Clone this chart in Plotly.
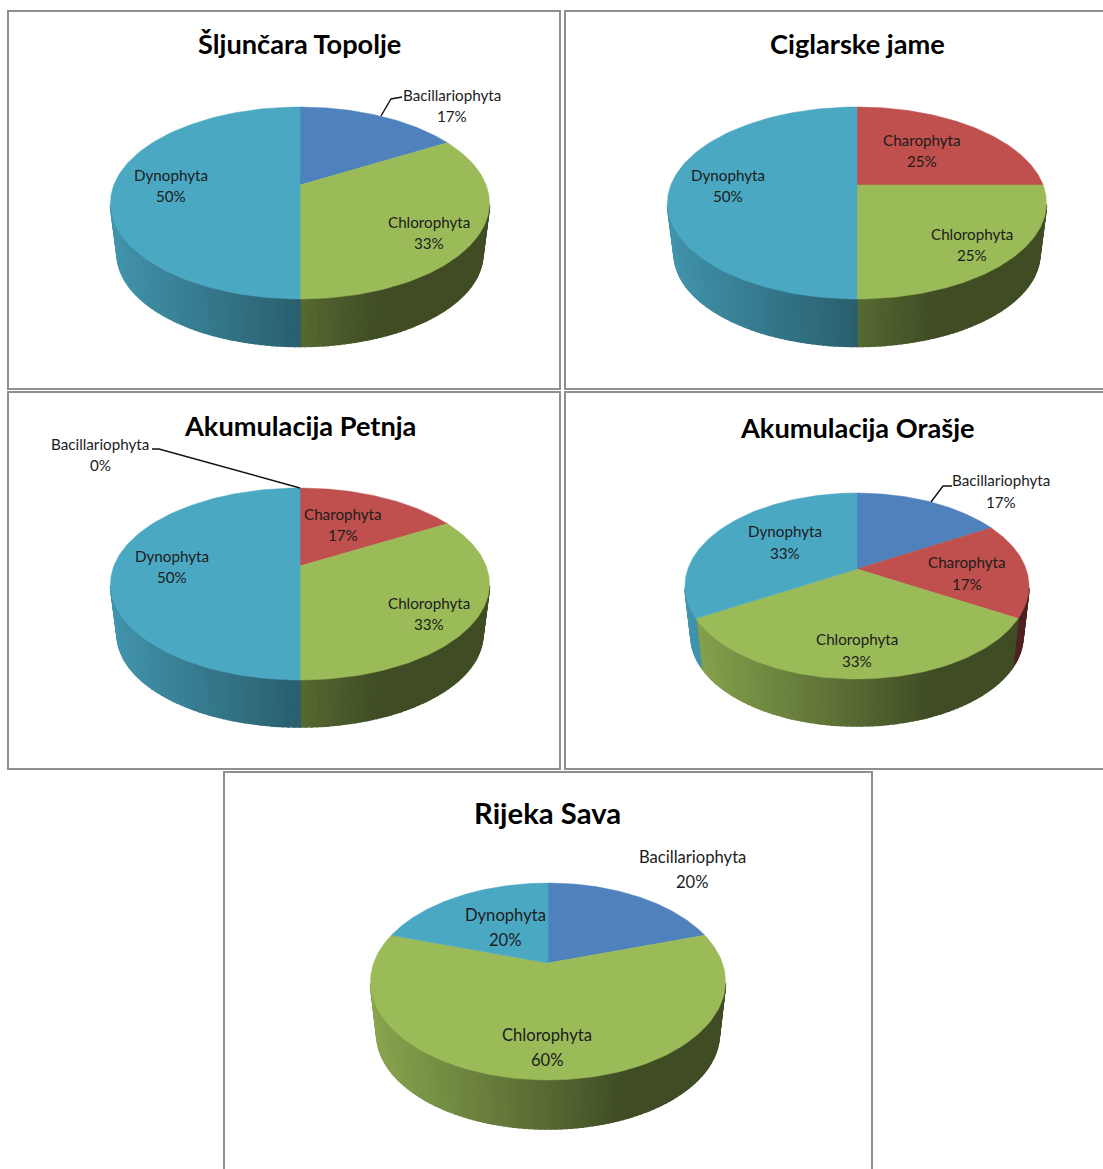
import numpy as np
import plotly.graph_objects as go

W, H = 1103, 1169
FONT = "Lato"

# ---- data (species counts per group)
categories = ["Bacillariophyta", "Charophyta", "Chlorophyta", "Dynophyta"]
titles = ["Šljunčara Topolje", "Ciglarske jame", "Akumulacija Petnja", "Akumulacija Orašje", "Rijeka Sava"]
sljuncara_topolje = [1, 0, 2, 3]
ciglarske_jame = [0, 1, 1, 2]
akumulacija_petnja = [0, 1, 2, 3]
akumulacija_orasje = [1, 1, 2, 2]
rijeka_sava = [1, 0, 3, 1]
series = [sljuncara_topolje, ciglarske_jame, akumulacija_petnja, akumulacija_orasje, rijeka_sava]

# ---- styles and layout (page pixels)
colors = ["#4f81bd", "#c0504d", "#9bbb59", "#4aa8c3"]
panels = [
    dict(frame=(8, 11, 560, 389), cx=300, apex=185, up=78, down=114, rx=189.5, depth=47.5, title=(299, 43.5), tfs=27.2, fs=15.2, gap=21),
    dict(frame=(565, 11, 1112, 389), cx=857, apex=185, up=78, down=114, rx=189.5, depth=47.5, title=(857, 43.5), tfs=27.2, fs=15.2, gap=21),
    dict(frame=(8, 392, 560, 769), cx=300, apex=566, up=78, down=114, rx=189.5, depth=47, title=(300, 425), tfs=27.2, fs=15.2, gap=21),
    dict(frame=(565, 392, 1112, 769), cx=857, apex=569, up=76, down=110, rx=172, depth=47, title=(857, 427.5), tfs=27.2, fs=15.2, gap=22),
    dict(frame=(224, 772, 872, 1180), cx=548, apex=963, up=80, down=117, rx=177.5, depth=49, title=(547.5, 812), tfs=29.3, fs=16.6, gap=25),
]
label_pos = [
    {0: (452, 95.5), 2: (429, 222.5), 3: (171, 175.5)},
    {1: (922, 140.5), 2: (972, 234.5), 3: (728, 175.5)},
    {0: (100, 443.5), 1: (343, 514), 2: (429, 603), 3: (172, 556)},
    {0: (1001, 480), 1: (967, 562), 2: (857, 639), 3: (785, 531)},
    {0: (692, 856.5), 2: (547, 1034.5), 3: (505, 914.5)},
]
leaders = [
    ([381, 391, 402], [116, 99, 97]),
    None,
    ([300, 159, 152], [488, 449, 449]),
    ([931, 943, 952], [502, 486, 486]),
    None,
]


def darken(hex_color, m):
    r, g, b = (int(hex_color[i:i + 2], 16) for i in (1, 3, 5))
    return f"rgb({r * m:.0f},{g * m:.0f},{b * m:.0f})"


def shade(u):
    return float(np.interp(u, [-1, 0, 0.42, 1], [0.88, 0.56, 0.41, 0.41]))


fig = go.Figure()
layout = dict()
shapes, annotations = [], []

for i, (p, values) in enumerate(zip(panels, series)):
    n = "" if i == 0 else str(i + 1)
    x0, y0, x1, y1 = p["frame"]
    layout["xaxis" + n] = dict(domain=[max(x0, 0) / W, min(x1, W) / W], range=[x0, min(x1, W)], visible=False, fixedrange=True)
    layout["yaxis" + n] = dict(domain=[1 - min(y1, H) / H, 1 - y0 / H], range=[min(y1, H), y0], visible=False, fixedrange=True)
    xa, ya = "x" + n, "y" + n

    shapes.append(dict(type="rect", xref="paper", yref="paper", x0=x0 / W, x1=x1 / W, y0=1 - y0 / H, y1=1 - y1 / H,
                       line=dict(color="#8f8f8f", width=2), layer="below"))

    # projection of the tilted disc: a circle seen in perspective
    k = (p["down"] - p["up"]) / (p["down"] + p["up"])
    a = p["up"] * (1 + k)
    A = p["rx"] * np.sqrt(1 - k ** 2)

    def top(t):
        t = np.radians(t)
        d = 1 + k * np.cos(t)
        return p["cx"] + A * np.sin(t) / d, p["apex"] - a * np.cos(t) / d

    def bottom(t):
        s = 0.965
        tx, ty = top(t)
        return p["cx"] + s * (tx - p["cx"]), p["apex"] + s * (ty - p["apex"]) + p["depth"] + (1 - s) * p["down"]

    total = sum(values)
    edges = np.concatenate([[0], np.cumsum(values) / total * 360])
    visible_from = np.degrees(np.arccos(-k)) + 1.0  # where the rim turns downward

    # side wall first, as thin shaded strips painted with overlap so no seams show
    for j, v in enumerate(values):
        lo, hi = max(edges[j], visible_from), min(edges[j + 1], 360 - visible_from)
        if v == 0 or hi <= lo:
            continue
        steps = max(1, int(np.ceil((hi - lo) / 1.5)))
        ts = np.linspace(lo, hi, steps + 1)
        for t0, t1 in zip(ts[:-1], ts[1:]):
            tx0, ty0 = top(t0)
            tx1, ty1 = top(t1)
            bx0, by0 = bottom(t0)
            bx1, by1 = bottom(t1)
            u = (top((t0 + t1) / 2)[0] - p["cx"]) / p["rx"]
            col = darken(colors[j], shade(u))
            fig.add_trace(go.Scatter(x=[tx0, tx1, bx1, bx0, tx0], y=[ty0, ty1, by1, by0, ty0], mode="lines",
                                     fill="toself", fillcolor=col, line=dict(color=col, width=1.6),
                                     xaxis=xa, yaxis=ya, hoverinfo="skip", showlegend=False))

    # top face
    for j, v in enumerate(values):
        if v == 0:
            continue
        ts = np.linspace(edges[j], edges[j + 1], 120)
        xs, ys = top(ts)
        fig.add_trace(go.Scatter(x=[p["cx"], *xs, p["cx"]], y=[p["apex"], *ys, p["apex"]], mode="lines",
                                 fill="toself", fillcolor=colors[j], line=dict(color=colors[j], width=0.5),
                                 xaxis=xa, yaxis=ya, name=categories[j], hoverinfo="name", showlegend=False))

    if leaders[i]:
        fig.add_trace(go.Scatter(x=leaders[i][0], y=leaders[i][1], mode="lines", line=dict(color="#111111", width=1.4),
                                 xaxis=xa, yaxis=ya, hoverinfo="skip", showlegend=False))

    # title and labels
    annotations.append(dict(x=p["title"][0], y=p["title"][1], xref=xa, yref=ya, text=f"<b>{titles[i]}</b>", showarrow=False,
                            font=dict(family=FONT, size=p["tfs"], color="#000000"), xanchor="center", yanchor="middle"))
    for j, (lx, ly) in label_pos[i].items():
        pct = round(100 * values[j] / total)
        annotations.append(dict(x=lx, y=ly, xref=xa, yref=ya, text=categories[j], showarrow=False,
                                font=dict(family=FONT, size=p["fs"], color="#1c1c1c"), xanchor="center", yanchor="middle"))
        annotations.append(dict(x=lx, y=ly + p["gap"], xref=xa, yref=ya, text=f"{pct}%", showarrow=False,
                                font=dict(family=FONT, size=p["fs"], color="#1c1c1c"), xanchor="center", yanchor="middle"))

fig.update_layout(width=W, height=H, margin=dict(l=0, r=0, t=0, b=0), paper_bgcolor="white", plot_bgcolor="white",
                  showlegend=False, shapes=shapes, annotations=annotations, **layout)

fig.write_html("out.html", config=dict(displayModeBar=False),
               post_script="document.body.style.margin='0';document.body.style.overflow='hidden';")
